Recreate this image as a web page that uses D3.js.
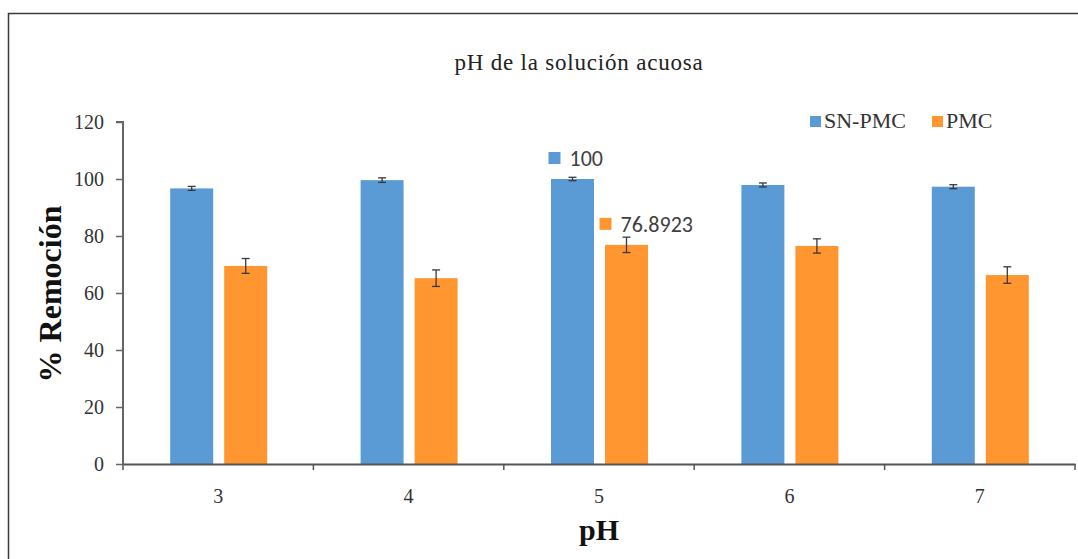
<!DOCTYPE html>
<html>
<head>
<meta charset="utf-8">
<script src="https://cdn.jsdelivr.net/npm/d3@7"></script>
<style>
body { margin: 0; background: #fff; }
</style>
</head>
<body>
<div class="chart"></div>
<script>
var categories = ["3", "4", "5", "6", "7"];
var series = ["SN-PMC", "PMC"];
var snpmc = [96.7, 99.6, 100, 97.9, 97.3];
var snpmcErr = [0.7, 0.8, 0.6, 0.7, 0.7];
var pmc = [69.5, 65.2, 76.8923, 76.5, 66.3];
var pmcErr = [2.6, 2.9, 2.7, 2.5, 2.9];
var yTicks = [0, 20, 40, 60, 80, 100, 120];
var colors = ["#5b9bd5", "#ff962f"];

var options = { width: 1078, height: 559, left: 123, right: 1075, top: 122, bottom: 464 };
var serif = "'Liberation Serif', 'Times New Roman', serif";

var svg = d3.select(".chart").append("svg")
    .attr("width", options.width)
    .attr("height", options.height);

// frame (left + top edges only visible)
svg.append("path")
    .attr("d", "M8.5," + options.height + " V13.5 H" + options.width)
    .attr("fill", "none")
    .attr("stroke", "#3a3a3a")
    .attr("stroke-width", 1.5);

var xScale = d3.scaleBand()
    .domain(categories)
    .range([options.left, options.right]);

var xSub = d3.scaleBand()
    .domain(series)
    .range([xScale.bandwidth() / 2 - 48, xScale.bandwidth() / 2 + 49])
    .paddingInner(0.204);

var yScale = d3.scaleLinear()
    .domain([0, 120])
    .range([options.bottom, options.top]);

var data = categories.map(function (c, i) {
    return { cat: c, vals: [snpmc[i], pmc[i]], errs: [snpmcErr[i], pmcErr[i]] };
});

var groups = svg.selectAll("g.grp").data(data).enter().append("g")
    .attr("class", "grp")
    .attr("transform", function (d) { return "translate(" + xScale(d.cat) + ",0)"; });

groups.selectAll("rect").data(function (d) {
    return d.vals.map(function (v, j) { return { s: series[j], v: v, e: d.errs[j], j: j }; });
}).enter().append("rect")
    .attr("x", function (d) { return xSub(d.s); })
    .attr("width", xSub.bandwidth())
    .attr("y", function (d) { return yScale(d.v); })
    .attr("height", function (d) { return yScale(0) - yScale(d.v); })
    .attr("fill", function (d) { return colors[d.j]; });

// error bars
groups.each(function (d) {
    var g = d3.select(this);
    d.vals.forEach(function (v, j) {
        var cx = xSub(series[j]) + xSub.bandwidth() / 2;
        var y1 = yScale(v + d.errs[j]), y2 = yScale(v - d.errs[j]);
        g.append("line").attr("x1", cx).attr("x2", cx).attr("y1", y1).attr("y2", y2)
            .attr("stroke", "#3a3a3a").attr("stroke-width", 1.3);
        g.append("line").attr("x1", cx - 4).attr("x2", cx + 4).attr("y1", y1).attr("y2", y1)
            .attr("stroke", "#3a3a3a").attr("stroke-width", 1.3);
        g.append("line").attr("x1", cx - 4).attr("x2", cx + 4).attr("y1", y2).attr("y2", y2)
            .attr("stroke", "#3a3a3a").attr("stroke-width", 1.3);
    });
});

// axes
var yAxis = d3.axisLeft(yScale).tickValues(yTicks).tickSize(7).tickPadding(12);
var gy = svg.append("g")
    .attr("transform", "translate(" + options.left + ",0)")
    .call(yAxis);
gy.attr("font-family", null).attr("font-size", null);
gy.select(".domain").attr("d", "M0," + options.bottom + "V" + options.top + "H-7")
    .attr("stroke", "#666").attr("stroke-width", 2);
gy.selectAll(".tick line").attr("stroke", "#666").attr("stroke-width", 1.5);
gy.selectAll("text")
    .style("font-family", serif)
    .style("font-size", "20px").attr("fill", "#333");

var xAxis = d3.axisBottom(xScale).tickSize(0).tickPadding(25);
var gx = svg.append("g")
    .attr("transform", "translate(0," + options.bottom + ")")
    .call(xAxis);
gx.attr("font-family", null).attr("font-size", null);
gx.select(".domain").attr("stroke", "#555").attr("stroke-width", 2);
gx.selectAll("text")
    .style("font-family", serif)
    .style("font-size", "20px").attr("fill", "#333");

// boundary ticks between categories
var bounds = categories.map(function (c) { return xScale(c); }).concat([options.right]);
gx.selectAll("line.bnd").data(bounds).enter().append("line")
    .attr("class", "bnd")
    .attr("x1", function (d) { return d; }).attr("x2", function (d) { return d; })
    .attr("y1", 0).attr("y2", 6)
    .attr("stroke", "#555").attr("stroke-width", 1.5);

// title
svg.append("text")
    .attr("x", 579).attr("y", 70)
    .attr("text-anchor", "middle")
    .style("font-family", serif).style("font-size", "23px")
    .style("letter-spacing", "0.8px")
    .attr("fill", "#222")
    .text("pH de la solución acuosa");

// axis titles
svg.append("text")
    .attr("transform", "translate(61,294) rotate(-90)")
    .attr("text-anchor", "middle")
    .style("font-family", serif).style("font-size", "32px")
    .attr("font-weight", "bold").attr("fill", "#111")
    .text("% Remoción");

svg.append("text")
    .attr("x", 599).attr("y", 540)
    .attr("text-anchor", "middle")
    .style("font-family", serif).style("font-size", "30px")
    .attr("font-weight", "bold").attr("fill", "#111")
    .text("pH");

// legend
var legend = [{ x: 810, label: series[0] }, { x: 932, label: series[1] }];
legend.forEach(function (l, j) {
    svg.append("rect").attr("x", l.x).attr("y", 116).attr("width", 11).attr("height", 11)
        .attr("fill", colors[j]);
    svg.append("text").attr("x", l.x + 14).attr("y", 128)
        .style("font-family", serif).style("font-size", "22px")
        .attr("fill", "#333")
        .text(l.label);
});

// data labels for pH 5
var i5 = categories.indexOf("5");
var labels = [
    { j: 0, v: snpmc[i5], text: String(snpmc[i5]), dx: -24 },
    { j: 1, v: pmc[i5], text: String(pmc[i5]), dx: -27 }
];
labels.forEach(function (l) {
    var x0 = xScale("5") + xSub(series[l.j]) + xSub.bandwidth() / 2 + l.dx;
    var yc = yScale(l.v) - 21;
    svg.append("rect").attr("x", x0).attr("y", yc - 6).attr("width", 12).attr("height", 12)
        .attr("fill", colors[l.j]);
    svg.append("text").attr("x", x0 + 21).attr("y", yc + 8)
        .style("font-family", "Carlito, 'Liberation Sans', Arial, sans-serif")
        .style("font-size", "22px")
        .attr("fill", "#404040")
        .text(l.text);
});
</script>
</body>
</html>
